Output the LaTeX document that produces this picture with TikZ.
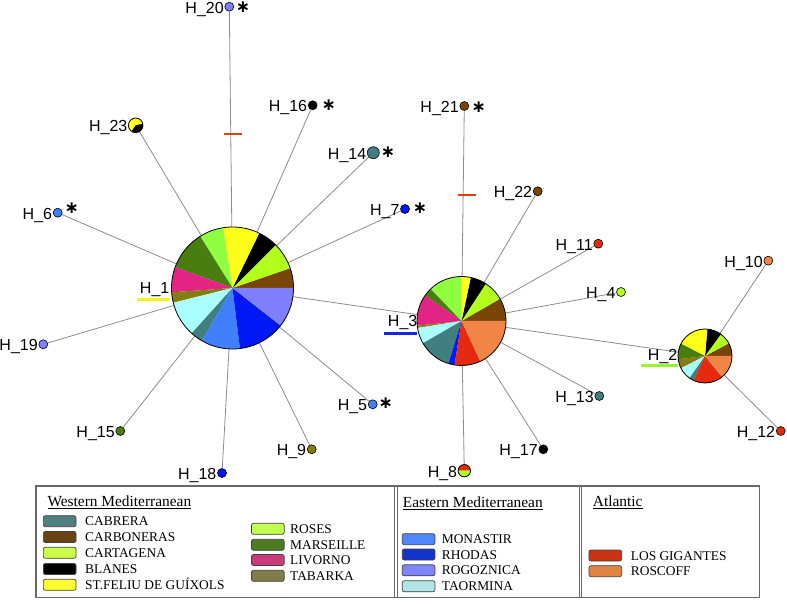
\documentclass[tikz,border=0pt]{standalone}
\usepackage{fontspec}
\setmainfont{Liberation Serif}
\newfontfamily\labfont{Liberation Sans}
\newfontfamily\symfont{DejaVu Sans}
% pie colours
\definecolor{cabr}{HTML}{3F7F7F}
\definecolor{carb}{HTML}{7A4508}
\definecolor{cart}{HTML}{B2FF1E}
\definecolor{feliu}{HTML}{FFFF1A}
\definecolor{roses}{HTML}{90FF40}
\definecolor{mars}{HTML}{4A7D10}
\definecolor{livo}{HTML}{E42484}
\definecolor{taba}{HTML}{857D10}
\definecolor{taor}{HTML}{AAFFFF}
\definecolor{mona}{HTML}{4080FF}
\definecolor{rhod}{HTML}{0018F5}
\definecolor{rogo}{HTML}{8080FF}
\definecolor{losg}{HTML}{E52A10}
\definecolor{rosc}{HTML}{F08545}
% legend colours
\definecolor{Lcabr}{HTML}{4F8080}
\definecolor{Lcarb}{HTML}{6B4214}
\definecolor{Lcart}{HTML}{CCFF4A}
\definecolor{Lfeliu}{HTML}{FFFF30}
\definecolor{Lroses}{HTML}{C0FF50}
\definecolor{Lmars}{HTML}{4E7B22}
\definecolor{Llivo}{HTML}{C83A7C}
\definecolor{Ltaba}{HTML}{827C46}
\definecolor{Lmona}{HTML}{4F86FF}
\definecolor{Lrhod}{HTML}{1432CC}
\definecolor{Lrogo}{HTML}{7F84FF}
\definecolor{Ltaor}{HTML}{B2E6E6}
\definecolor{Llosg}{HTML}{C83414}
\definecolor{Lrosc}{HTML}{E08444}
\definecolor{edgegray}{HTML}{8C8C8C}
\definecolor{framegray}{HTML}{686868}
\definecolor{tickred}{HTML}{E04010}
\definecolor{ulyellow}{HTML}{FAF500}
\definecolor{ulblue}{HTML}{1028E6}
\definecolor{ulgreen}{HTML}{96F528}
\newcommand{\piewedges}[3]{%
  \foreach \a/\b/\c in {#3} {\fill[\c] (#1.center) -- ++(\a:#2) arc[start angle=\a, end angle=\b, radius=#2] -- cycle;}
  \draw[line width=0.8pt] (#1.center) circle[radius=#2];}
\begin{document}
\begin{tikzpicture}[x=1pt,y=1pt,
  hub/.style={circle, inner sep=0pt, minimum size=#1},
  leaf/.style={circle, draw=black, line width=0.6pt, inner sep=0pt, minimum size=9pt, fill=#1},
  lab/.style={font=\labfont\fontsize{16}{16}\selectfont, inner sep=0pt, anchor=base east},
  edge/.style={draw=edgegray, line width=0.8pt},
  astmark/.style={inner sep=0pt, font=\symfont\bfseries\fontsize{17}{17}\selectfont},
  mtick/.style={draw=tickred, line width=2pt},
  legbox/.style={draw=black!75, line width=0.7pt, rounded corners=2pt, minimum width=32.7pt, minimum height=11pt, inner sep=0pt, fill=#1},
  legtxt/.style={font=\fontsize{13.4}{13.4}\selectfont, inner sep=0pt, anchor=base west},
  legtitle/.style={font=\fontsize{15.4}{15.4}\selectfont, inner sep=0pt, anchor=base west},
  frame/.style={draw=framegray, line width=1.1pt}]
\useasboundingbox (0,0) rectangle (787,603);
% hubs
\node[hub=122pt] (h1) at (232.5,315) {};
\node[hub=89pt] (h3) at (461.5,282) {};
\node[hub=54pt] (h2) at (705,247) {};
% leaves
\node[leaf=rogo] (h20) at (229.3,596.3) {};
\node[leaf=black] (h16) at (312.7,497.7) {};
\node[hub=14.6pt] (h23) at (135.7,477.7) {};
\node[leaf=cabr, minimum size=12pt] (h14) at (373.3,450.3) {};
\node[leaf=rhod] (h7) at (405,394) {};
\node[leaf=mona] (h6) at (57.7,390.3) {};
\node[leaf=rogo] (h19) at (43.3,258.7) {};
\node[leaf=mars] (h15) at (120.3,172) {};
\node[leaf=rhod] (h18) at (222,130) {};
\node[leaf=taba] (h9) at (311.7,153.7) {};
\node[leaf=mona] (h5) at (372.7,198.7) {};
\node[leaf=carb] (h21) at (464.3,497) {};
\node[leaf=carb] (h22) at (537.7,411.7) {};
\node[leaf=losg] (h11) at (598.3,359.3) {};
\node[leaf=cart] (h4) at (621,311) {};
\node[leaf=cabr] (h13) at (599.3,207) {};
\node[leaf=black] (h17) at (543.3,153.7) {};
\node[hub=12.4pt] (h8) at (464.3,132.3) {};
\node[leaf=rosc] (h10) at (768.3,342.3) {};
\node[leaf=losg] (h12) at (780.7,172) {};
% edges
\foreach \t in {h20,h16,h23,h14,h7,h6,h19,h15,h18,h9,h5} {\draw[edge] (h1) -- (\t);}
\foreach \t in {h21,h22,h11,h4,h13,h17,h8} {\draw[edge] (h3) -- (\t);}
\foreach \t in {h10,h12} {\draw[edge] (h2) -- (\t);}
\draw[edge] (h1) -- (h3);
\draw[edge] (h3) -- (h2);
% mutation ticks
\coordinate (t20a) at (224,469); \coordinate (t20b) at (242,469);
\coordinate (t21a) at (457.7,407.7); \coordinate (t21b) at (475.7,407.7);
\draw[mtick] (t20a) -- (t20b);
\draw[mtick] (t21a) -- (t21b);
% pies
\piewedges{h1}{61}{0/19/carb,19/45/cart,45/64/black,64/99/feliu,99/122/roses,122/160/mars,160/184/livo,184/194/taba,194/228/taor,228/240/cabr,240/277/mona,277/322/rhod,322/360/rogo}
\piewedges{h3}{44.5}{0/30/carb,30/57/cart,57/78/black,78/91/feliu,91/134/roses,134/145/mars,145/186/livo,186/189/taba,189/210/taor,210/253/cabr,253/261/rhod,261/295/losg,295/360/rosc}
\piewedges{h2}{27}{0/28/carb,28/54/cart,54/85/black,85/153/feliu,153/187/mars,187/207/taba,207/235/taor,235/245/cabr,245/309/losg,309/360/rosc}
\piewedges{h23}{7.3}{12/235/feliu,235/372/black}
\piewedges{h8}{6.2}{0/180/losg,180/360/cart}
% leaf labels
\foreach \n/\t in {h20/H\_20,h16/H\_16,h23/H\_23,h14/H\_14,h7/H\_7,h6/H\_6,h19/H\_19,h15/H\_15,h18/H\_18,h9/H\_9,h5/H\_5,h21/H\_21,h22/H\_22,h11/H\_11,h4/H\_4,h13/H\_13,h17/H\_17,h8/H\_8,h10/H\_10,h12/H\_12}
  {\node[lab] (l\n) at ([xshift=-0.6pt,yshift=-6.6pt]\n.west) {\t};}
% hub labels and underlines
\node[lab] (lh1) at (169.5,309.7) {H\_1};
\node[lab] (lh3) at (417.5,276.3) {H\_3};
\node[lab] (lh2) at (677.5,242.3) {H\_2};
\draw[draw=ulyellow, line width=3.3pt] (137.3,303.3) -- (169.3,303.3);
\draw[draw=ulblue, line width=3.3pt] (384,269.7) -- (416.7,269.7);
\draw[draw=ulgreen, line width=3.3pt] (640.7,237.7) -- (677.7,237.7);
% asterisks
\node[astmark] (s20) at (243,596) {∗};
\node[astmark] (s16) at (328.7,498.3) {∗};
\node[astmark] (s14) at (388,451) {∗};
\node[astmark] (s7) at (420,395) {∗};
\node[astmark] (s6) at (71.7,394.7) {∗};
\node[astmark] (s5) at (385.7,200) {∗};
\node[astmark] (s21) at (478.7,495.7) {∗};
% legend frame
\draw[frame] (36,117) rectangle (759.3,5.3);
\draw[frame, line width=0.8pt] (394.7,117) -- (394.7,5.3);
\draw[frame, line width=0.8pt] (397.2,117) -- (397.2,5.3);
\draw[frame, line width=0.8pt] (578.9,117) -- (578.9,5.3);
\draw[frame, line width=0.8pt] (581.4,117) -- (581.4,5.3);
% titles
\node[legtitle] (tw) at (47.3,96.3) {\underline{Western Mediterranean}};
\node[legtitle] (te) at (402.7,95.3) {\underline{Eastern Mediterranean}};
\node[legtitle] (ta) at (592.7,96.3) {\underline{Atlantic}};
% western column 1
\foreach \y/\c/\t in {81.8/Lcabr/CABRERA, 66/Lcarb/CARBONERAS, 50.2/Lcart/CARTAGENA, 34/black/BLANES, 18.2/Lfeliu/ST.FELIU DE GUÍXOLS}
  {\node[legbox=\c] at (59.7,\y) {}; \node[legtxt] at (85,\y-4.6) {\t};}
% western column 2
\foreach \y/\c/\t in {74.2/Lroses/ROSES, 58.2/Lmars/MARSEILLE, 43/Llivo/LIVORNO, 27.2/Ltaba/TABARKA}
  {\node[legbox=\c] at (267.8,\y) {}; \node[legtxt] at (290,\y-4.6) {\t};}
% eastern
\foreach \y/\c/\t in {63.8/Lmona/MONASTIR, 48.5/Lrhod/RHODAS, 32.7/Lrogo/ROGOZNICA, 16.7/Ltaor/TAORMINA}
  {\node[legbox=\c] at (418.6,\y) {}; \node[legtxt] at (441.7,\y-4.6) {\t};}
% atlantic
\foreach \y/\c/\t in {47.5/Llosg/LOS GIGANTES, 31.8/Lrosc/ROSCOFF}
  {\node[legbox=\c] at (605.3,\y) {}; \node[legtxt] at (630.7,\y-4.6) {\t};}
\end{tikzpicture}
\end{document}
